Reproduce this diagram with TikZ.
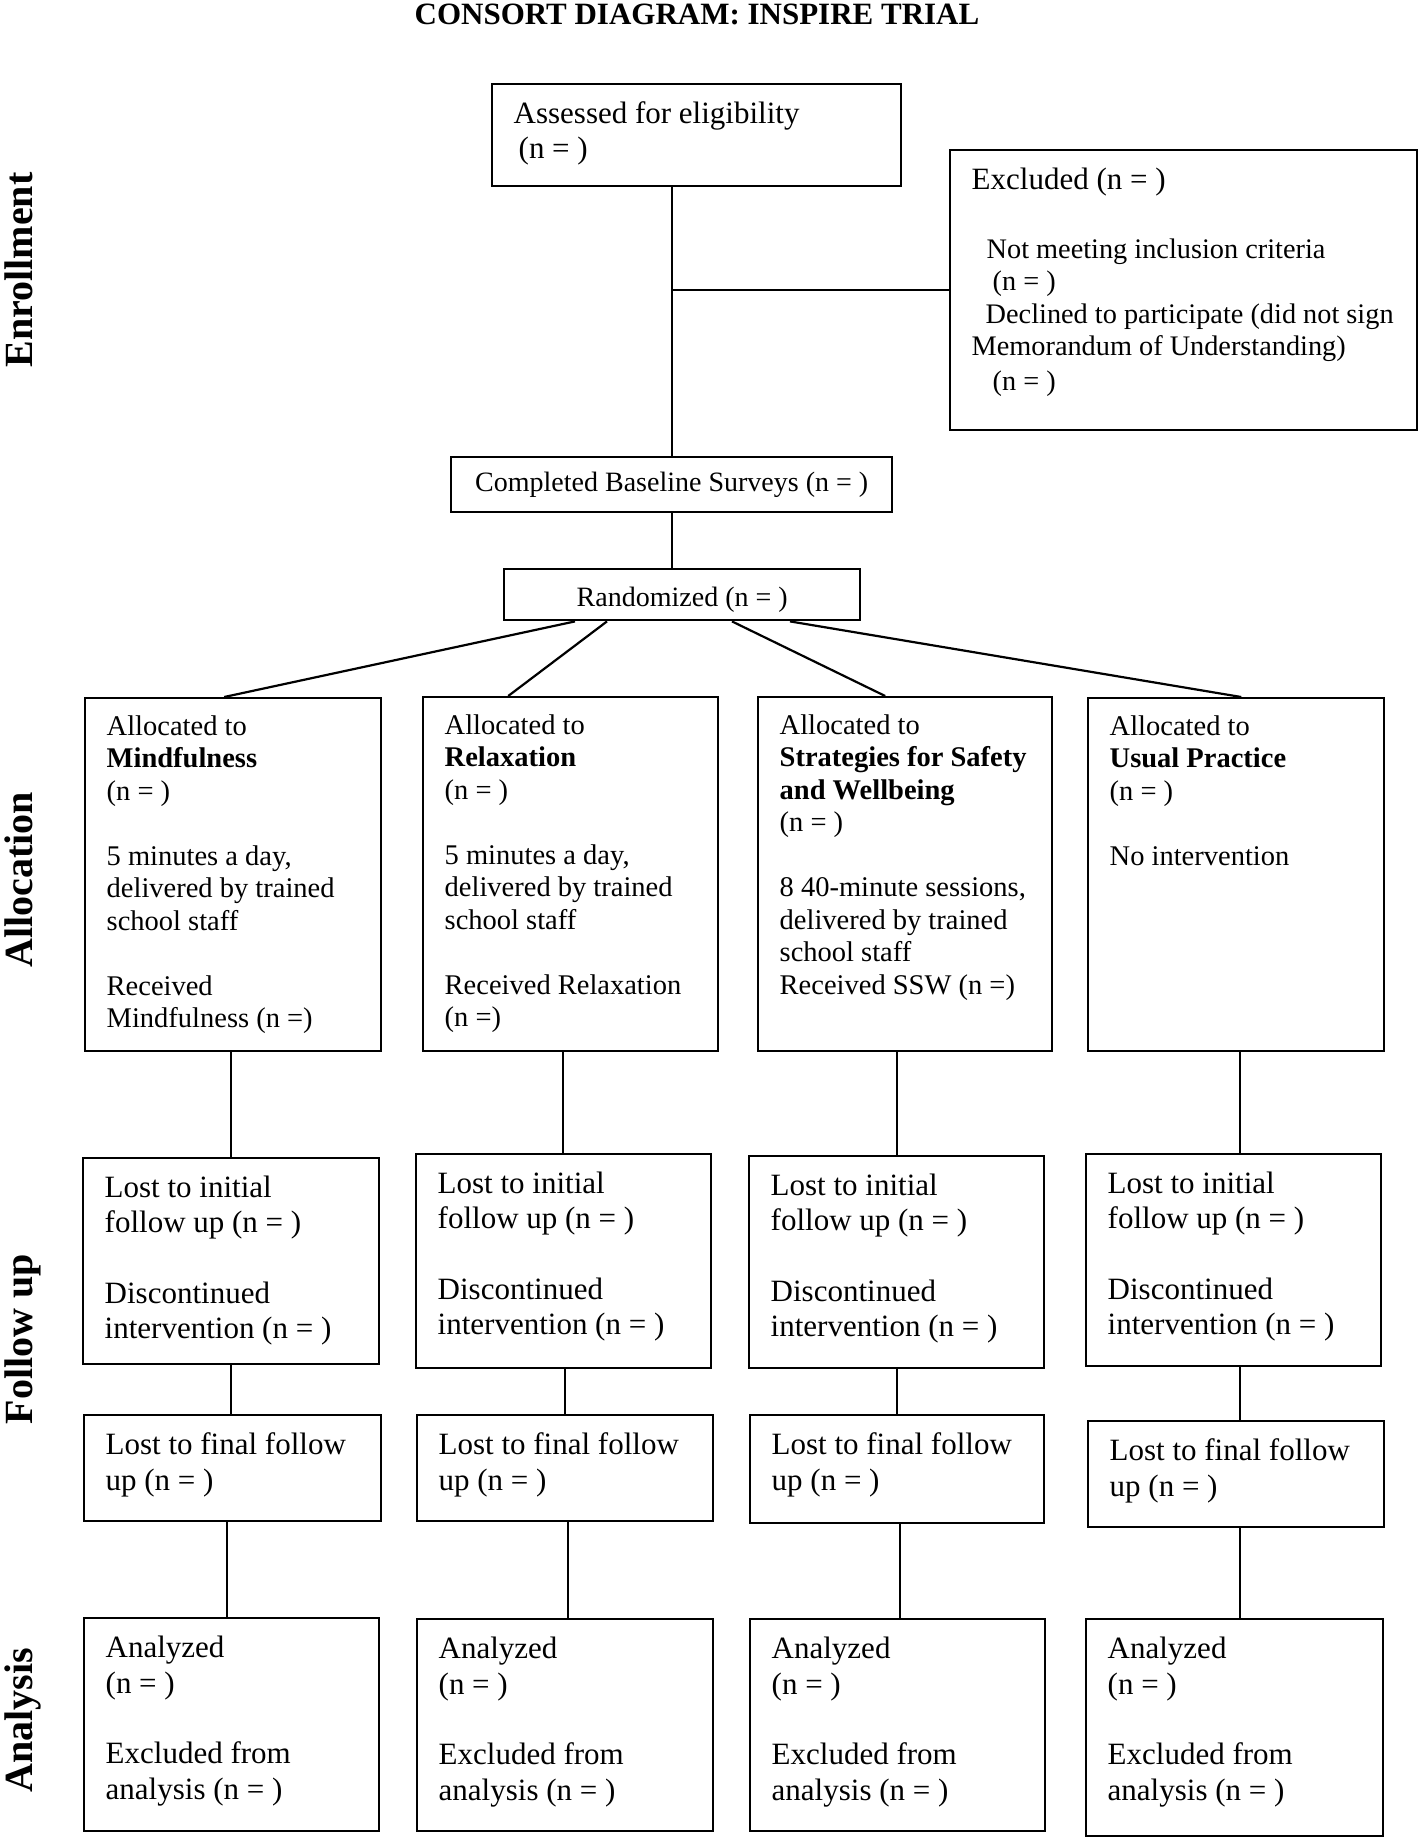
\documentclass[tikz,border=0pt]{standalone}
\usepackage{fontspec}
\setmainfont{Liberation Serif}
\usetikzlibrary{positioning}

\begin{document}
\begin{tikzpicture}[
		x=1pt, y=-1pt,
		box/.style = {
			draw,
			line width=2.4pt,
			anchor=north west,
			inner xsep=0pt,
			inner ysep=8pt,
			align=left,
			text height=31pt,
			execute at begin node={\leftskip=21.5pt\rightskip=0pt plus 1fil\spaceskip=0pt\xspaceskip=0pt\relax}
		},
		boxsize/.style 2 args = {
			text width=#1,
			text depth=#2-47
		},
		midbox/.style = {
			draw,
			line width=2.4pt,
			anchor=north west,
			inner sep=0pt,
			font=\fontsize{28}{32}\selectfont
		},
		bigtext/.style = {font=\fontsize{31}{35}\selectfont},
		lowtext/.style = {font=\fontsize{31}{36}\selectfont},
		alloctext/.style = {font=\fontsize{28.5}{32.5}\selectfont, text height=29pt},
		phase/.style = {font=\fontsize{40}{44}\selectfont\bfseries, rotate=90, anchor=base},
		link/.style = {draw, line width=2.2pt}
		]
		\useasboundingbox (0,0) rectangle (1419,1837);

		% title and phase labels
		\node[font=\fontsize{31}{35}\selectfont\bfseries, anchor=base] (title) at (697,24) {CONSORT DIAGRAM: INSPIRE TRIAL};
		\node[phase] (enrol) at (32,270) {Enrollment};
		\node[phase] (alloc) at (32,880) {Allocation};
		\node[phase] (follow) at (32,1339) {Follow up};
		\node[phase] (analys) at (32,1720) {Analysis};

		% enrollment
		\node[box, bigtext, boxsize={409}{102}] (assessed) at (491,83) {Assessed for eligibility\\\hspace*{5pt}(n = )};
		\node[box, bigtext, boxsize={467}{280}] (excl) at (949,149) {Excluded (n = )\\[36.5pt]\fontsize{28.3}{32.5}\selectfont
			\hspace*{15pt}Not meeting inclusion criteria\\
			\hspace*{21pt}(n = )\\
			\hspace*{14pt}Declined to participate (did not sign\\
			Memorandum of Understanding)\\
			\hspace*{21pt}(n = )};
		\node[midbox, minimum width=441, minimum height=55] (base) at (450,456) {Completed Baseline Surveys (n = )};
		\node[midbox, minimum width=356, minimum height=51, text height=26pt, text depth=2.6pt] (rand) at (503,568) {Randomized (n = )};

		% allocation
		\node[box, alloctext, boxsize={296}{355}] (a1) at (84,697) {Allocated to\\\textbf{Mindfulness}\\(n = )\\[32.5pt]5 minutes a day,\\delivered by trained\\school staff\\[32.5pt]Received\\Mindfulness (n =)};
		\node[box, alloctext, boxsize={295}{356}] (a2) at (422,696) {Allocated to\\\textbf{Relaxation}\\(n = )\\[32.5pt]5 minutes a day,\\delivered by trained\\school staff\\[32.5pt]Received Relaxation\\(n =)};
		\node[box, alloctext, boxsize={294}{356}] (a3) at (757,696) {Allocated to\\\textbf{Strategies for Safety}\\\textbf{and Wellbeing}\\(n = )\\[32.5pt]8 40-minute sessions,\\delivered by trained\\school staff\\Received SSW (n =)};
		\node[box, alloctext, boxsize={296}{355}] (a4) at (1087,697) {Allocated to\\\textbf{Usual Practice}\\(n = )\\[32.5pt]No intervention};

		% follow up
		\node[box, bigtext, boxsize={296}{206}] (f1) at (82,1157) {Lost to initial\\follow up (n = )\\[36pt]Discontinued\\intervention (n = )};
		\node[box, bigtext, boxsize={295}{214}] (f2) at (415,1153) {Lost to initial\\follow up (n = )\\[36pt]Discontinued\\intervention (n = )};
		\node[box, bigtext, boxsize={295}{212}] (f3) at (748,1155) {Lost to initial\\follow up (n = )\\[36pt]Discontinued\\intervention (n = )};
		\node[box, bigtext, boxsize={295}{212}] (f4) at (1085,1153) {Lost to initial\\follow up (n = )\\[36pt]Discontinued\\intervention (n = )};

		\node[box, lowtext, boxsize={297}{106}] (l1) at (83,1414) {Lost to final follow\\up (n = )};
		\node[box, lowtext, boxsize={296}{106}] (l2) at (416,1414) {Lost to final follow\\up (n = )};
		\node[box, lowtext, boxsize={294}{108}] (l3) at (749,1414) {Lost to final follow\\up (n = )};
		\node[box, lowtext, boxsize={296}{106}] (l4) at (1087,1420) {Lost to final follow\\up (n = )};

		% analysis
		\node[box, lowtext, boxsize={295}{213}] (n1) at (83,1617) {Analyzed\\(n = )\\[34pt]Excluded from\\analysis (n = )};
		\node[box, lowtext, boxsize={296}{212}] (n2) at (416,1618) {Analyzed\\(n = )\\[34pt]Excluded from\\analysis (n = )};
		\node[box, lowtext, boxsize={295}{212}] (n3) at (749,1618) {Analyzed\\(n = )\\[34pt]Excluded from\\analysis (n = )};
		\node[box, lowtext, boxsize={297}{217}] (n4) at (1085,1618) {Analyzed\\(n = )\\[34pt]Excluded from\\analysis (n = )};

		% connectors
		\draw[link] (assessed.south -| base.north) -- (base.north);
		\draw[link] (excl.west) -- (excl.west -| base.north);
		\draw[link] (base.south) -- (base.south |- rand.north);
		\draw[link] ([xshift=72pt]rand.south west) -- ([xshift=-9pt]a1.north);
		\draw[link] ([xshift=104pt]rand.south west) -- ([xshift=-62.5pt]a2.north);
		\draw[link] ([xshift=229pt]rand.south west) -- ([xshift=-20pt]a3.north);
		\draw[link] ([xshift=287pt]rand.south west) -- ([xshift=5pt]a4.north);
		\foreach \c/\s/\t/\u in {1/-2/0/-5.5, 2/-7.5/1.5/3, 3/-8/0/3, 4/4/6.5/4} {
			\draw[link] ([xshift=\s]a\c.south) -- ([xshift=\s]a\c.south |- f\c.north);
			\draw[link] ([xshift=\t]f\c.south) -- ([xshift=\t]f\c.south |- l\c.north);
			\draw[link] ([xshift=\u]l\c.south) -- ([xshift=\u]l\c.south |- n\c.north);
		}
\end{tikzpicture}
\end{document}
